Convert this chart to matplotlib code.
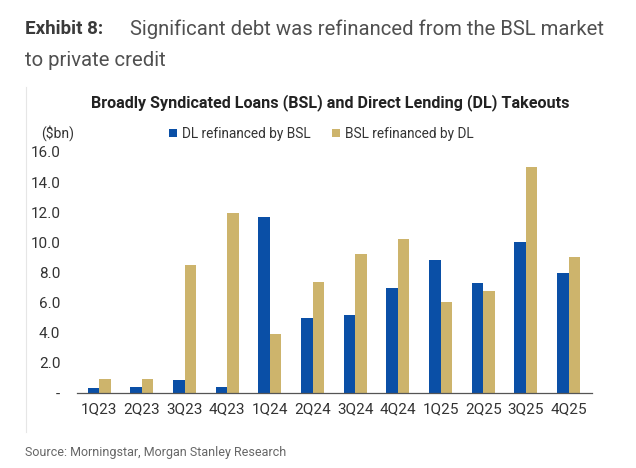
import numpy as np
import matplotlib.pyplot as plt
from matplotlib.lines import Line2D

plt.rcParams['font.family'] = ['Roboto', 'DejaVu Sans']

# Data ($bn)
quarters = ['1Q23', '2Q23', '3Q23', '4Q23', '1Q24', '2Q24',
            '3Q24', '4Q24', '1Q25', '2Q25', '3Q25', '4Q25']
dl_by_bsl = [0.3, 0.38, 0.84, 0.42, 11.66, 4.96,
             5.2, 7.0, 8.8, 7.3, 10.0, 7.95]
bsl_by_dl = [0.95, 0.95, 8.47, 11.97, 3.9, 7.4,
             9.23, 10.22, 6.02, 6.77, 15.02, 9.03]
ytick_vals = [0, 2, 4, 6, 8, 10, 12, 14, 16]
ytick_labels = ['-', '2.0', '4.0', '6.0', '8.0', '10.0', '12.0', '14.0', '16.0']

blue = '#0A4FA6'
gold = '#CDB46C'

fig = plt.figure(figsize=(6.36, 4.68), dpi=100)

# header text
fig.text(0.039, 0.938, 'Exhibit 8:', fontsize=13.5, fontweight='bold',
         color='#3a3a3a', va='center')
fig.text(0.205, 0.938, 'Significant debt was refinanced from the BSL market',
         fontsize=14.6, color='#505050', va='center')
fig.text(0.039, 0.87, 'to private credit', fontsize=14.6, color='#505050',
         va='center')

# faint chart frame line on the left
fig.add_artist(Line2D([0.041, 0.041], [0.077, 0.815], color='#e6e6e6', lw=0.8))

ax = fig.add_axes([0.121, 0.1603, 0.81, 0.515])
x = np.arange(len(quarters))
w = 0.27
ax.bar(x - w / 2, dl_by_bsl, width=w, color=blue, label='DL refinanced by BSL')
ax.bar(x + w / 2, bsl_by_dl, width=w, color=gold, label='BSL refinanced by DL')

ax.set_xlim(-0.52, 11.55)
ax.set_ylim(0, 16)
ax.set_xticks(x)
ax.set_xticklabels(quarters, fontsize=11, color='#333333')
ax.set_yticks(ytick_vals)
ax.set_yticklabels(ytick_labels, fontsize=11, color='#333333')
ax.tick_params(axis='both', length=0, pad=7)
ax.tick_params(axis='y', pad=12)
for s in ['top', 'right', 'left']:
    ax.spines[s].set_visible(False)
ax.spines['bottom'].set_color('#555555')
ax.spines['bottom'].set_linewidth(0.9)

ax.legend(loc='lower center', bbox_to_anchor=(0.474, 0.995), ncol=2, frameon=False,
          fontsize=9.8, handlelength=0.6, handleheight=0.6, handletextpad=0.35,
          columnspacing=1.6, labelcolor='#333333')

fig.text(0.52, 0.78, 'Broadly Syndicated Loans (BSL) and Direct Lending (DL) Takeouts',
         fontsize=11.6, fontweight='bold', color='#222222', ha='center',
         va='center')
fig.text(0.065, 0.715, '($bn)', fontsize=10, color='#333333', va='center')

fig.text(0.039, 0.033, 'Source: Morningstar, Morgan Stanley Research',
         fontsize=9, color='#666666', va='center')

fig.savefig('out.png', dpi=100)
